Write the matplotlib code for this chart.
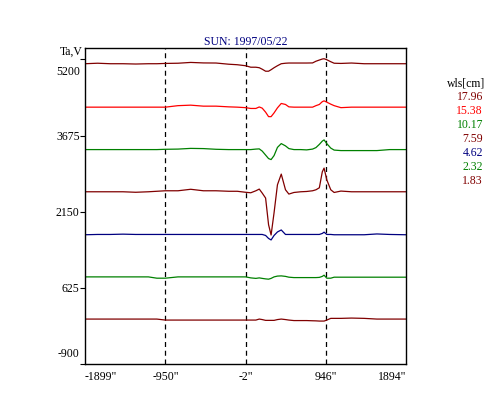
import matplotlib
matplotlib.use("Agg")
import matplotlib.pyplot as plt
from matplotlib.transforms import ScaledTranslation

plt.rcParams["font.family"] = ["Liberation Serif", "DejaVu Serif"]

# position on the disk, arcsec
x_pos = [-1899, -1750, -1600, -1450, -1300, -1150, -1050, -950, -800, -650, -500,
         -350, -200, -100, -2, 60, 120, 160, 195, 235, 270, 300, 335, 375, 420,
         470, 510, 570, 650, 720, 790, 830, 870, 905, 926, 958, 1005, 1045, 1125,
         1250, 1400, 1550, 1700, 1894]

# deviations from each trace level (Ta, K)
t1796 = [0, 10, 0, 0, -6, 0, 0, 6, 10, 26, 16, 14, -10, -20, -40, -70, -70, -80, -110,
         -150, -150, -120, -80, -40, 0, 10, 14, 14, 14, 14, 16, 50, 74, 94, 100, 80, 40,
         10, 6, 14, 0, 0, 0, 0]
t1538 = [0, 0, 0, 0, 0, 0, 0, 0, 30, 40, 20, 20, 6, 0, -10, -26, -26, 4, -20, -100,
         -190, -190, -115, -14, 74, 54, 6, 0, 0, 0, 0, 30, 54, 110, 126, 100, 60, 30,
         -10, 0, 0, 0, 0, 0]
t1017 = [0, 0, 0, 0, 0, 0, 0, 6, 10, 24, 20, 6, 0, 0, 0, 0, 10, 14, -30, -110, -180,
         -200, -120, 44, 120, 74, 20, 0, 0, -6, 10, 40, 104, 170, 194, 120, 30, -10,
         -20, -20, -20, -20, 0, 0]
t759 = [0, 0, 0, 0, -10, 0, 10, 20, 20, 50, 20, 20, 10, 10, -10, -20, 20, 54, -26,
        -126, -660, -866, -420, 140, 354, 40, -46, -14, 0, 6, 20, 40, 80, 400, 474,
        240, 40, -14, 14, 0, 0, 0, 0, 0]
t462 = [-6, 0, 0, 6, 0, 0, 0, 0, 0, 0, 0, 0, 0, 0, 0, 0, 0, 0, 0, -20, -80, -110, -20,
        50, 90, 0, 0, 0, 0, 0, 0, 0, 0, 20, 46, 0, 0, -6, -6, -6, -6, 10, 0, -6]
t232 = [0, 0, 0, 0, 0, 0, -26, -26, 0, 0, 0, 0, 0, 0, 0, -20, -30, -20, -30, -40, -46,
        -30, 0, 16, 20, 10, -6, -14, -14, -14, -14, -14, -10, 10, 34, -26, -26, -6, -6,
        -6, -6, -6, -6, -6]
t183 = [0, 0, 0, 0, 0, 0, 0, -20, -20, -20, -20, -20, -20, -20, -20, -20, -20, 0, -10,
        -26, -26, -26, -26, -10, 0, -10, -20, -30, -30, -30, -34, -36, -40, -40, -40,
        -20, 14, 14, 14, 20, 14, 0, 0, 0]

traces = [t1796, t1538, t1017, t759, t462, t232, t183]
levels = [5115, 4245, 3395, 2550, 1695, 845, 0]
wavelengths = ["17.96", "15.38", "10.17", "7.59", "4.62", "2.32", "1.83"]
colors = ["#800000", "#ff0000", "#008000", "#800000", "#000080", "#008000", "#800000"]

x_ticks = [-1899, -950, -2, 946, 1894]
y_ticks = [5200, 3675, 2150, 625, -900]

fig = plt.figure(figsize=(5, 4), dpi=100)
ax = fig.add_axes([0.17, 0.09, 0.642, 0.79])

for xv in x_ticks[1:-1]:
    ax.axvline(xv, color="black", lw=0.9, ls=(0, (4, 3)), zorder=1)

for vals, lev, col in zip(traces, levels, colors):
    ax.plot(x_pos, [v + lev for v in vals], color=col, lw=0.9, zorder=2)

ax.set_xlim(-1899, 1894)
ax.set_ylim(-900, 5430)
ax.set_xticks(x_ticks)
ax.set_xticklabels([f'{v}"' for v in x_ticks])
ax.set_yticks(y_ticks)
ax.set_yticklabels([str(v) for v in y_ticks])
ax.tick_params(axis="x", length=0, pad=5, labelsize=8.5)
ax.tick_params(axis="y", length=3.3, pad=0.5, labelsize=8.5, direction="out")
for sp in ax.spines.values():
    sp.set_linewidth(1.0)

xl = ax.get_xticklabels()
xl[0].set_ha("left")
xl[-1].set_ha("right")
yl = ax.get_yticklabels()
yl[0].set_transform(yl[0].get_transform() + ScaledTranslation(0, -8 / 72, fig.dpi_scale_trans))
yl[-1].set_transform(yl[-1].get_transform() + ScaledTranslation(0, 8.5 / 72, fig.dpi_scale_trans))

ax.set_title("SUN: 1997/05/22", color="#000080", fontsize=8.5, pad=2)
fig.text(83 / 500, 1 - 51.5 / 400, "Ta,V", ha="right", va="center", fontsize=8.5)

fig.text(485 / 500, 1 - 83 / 400, "wls[cm]", ha="right", va="center", fontsize=8.5)
for i, (w, col) in enumerate(zip(wavelengths, colors)):
    fig.text(483 / 500, 1 - (97.5 + 13.9 * i) / 400, w, ha="right", va="center",
             color=col, fontsize=8.5)

fig.savefig("out.png", dpi=100)
